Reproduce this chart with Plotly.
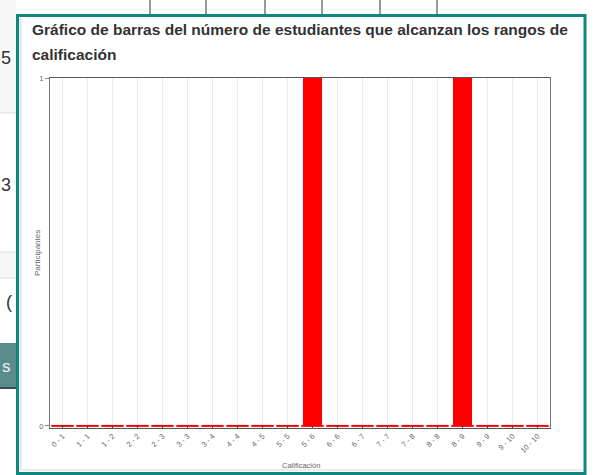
import plotly.graph_objects as go

categories = ["0 - 1", "1 - 1", "1 - 2", "2 - 2", "2 - 3", "3 - 3", "3 - 4", "4 - 4",
              "4 - 5", "5 - 5", "5 - 6", "6 - 6", "6 - 7", "7 - 7", "7 - 8", "8 - 8",
              "8 - 9", "9 - 9", "9 - 10", "10 - 10"]
participantes = [0, 0, 0, 0, 0, 0, 0, 0, 0, 0, 1, 0, 0, 0, 0, 0, 1, 0, 0, 0]
y_ticks = [0, 1]

title_line1 = "Gráfico de barras del número de estudiantes que alcanzan los rangos de"
title_line2 = "calificación"

W, H = 596, 475
L, R, T, B = 50, 46, 78, 47
PW, PH = W - L - R, H - T - B


def px(x):
    return (x - L) / PW


def py(y):
    return (H - B - y) / PH


fig = go.Figure()
fig.add_trace(go.Bar(x=categories, y=participantes, marker=dict(color="#ff0000", line=dict(width=0)),
                     hoverinfo="x+y"))
# Chart.js style minimal bar at the baseline
fig.add_trace(go.Scatter(x=categories, y=[0 for _ in participantes], mode="markers",
                         marker=dict(symbol="line-ew-open", size=16, color="#ff0000",
                                     line=dict(width=2, color="#ff0000")),
                         cliponaxis=False, hoverinfo="skip"))

shapes = []
annotations = []
# outside page background (left strip)
shapes.append(dict(type="rect", xref="paper", yref="paper", x0=px(0), x1=px(16), y0=py(0), y1=py(113),
                   fillcolor="#f7f7f7", line=dict(width=0), layer="below"))
shapes.append(dict(type="rect", xref="paper", yref="paper", x0=px(0), x1=px(16), y0=py(252), y1=py(278),
                   fillcolor="#f7f7f7", line=dict(width=0), layer="below"))
for yy in [113, 252, 278]:
    shapes.append(dict(type="line", xref="paper", yref="paper", x0=px(0), x1=px(16), y0=py(yy), y1=py(yy),
                       line=dict(color="#dddddd", width=1)))
# button fragment
shapes.append(dict(type="rect", xref="paper", yref="paper", x0=px(0), x1=px(17), y0=py(343), y1=py(389),
                   fillcolor="#5a8c8c", line=dict(width=0)))
shapes.append(dict(type="line", xref="paper", yref="paper", x0=px(0), x1=px(17), y0=py(388), y1=py(388),
                   line=dict(color="#2f4f4f", width=2)))
annotations.append(dict(text="s", xref="paper", yref="paper", x=px(6), y=py(366), xanchor="center",
                        yanchor="middle", showarrow=False,
                        font=dict(size=17, color="#e8f2f2", family="Liberation Sans")))
annotations.append(dict(text="5", xref="paper", yref="paper", x=px(13), y=py(58), xanchor="right",
                        yanchor="middle", showarrow=False,
                        font=dict(size=18, color="#333333", family="Liberation Sans")))
annotations.append(dict(text="3", xref="paper", yref="paper", x=px(13), y=py(185), xanchor="right",
                        yanchor="middle", showarrow=False,
                        font=dict(size=18, color="#333333", family="Liberation Sans")))
annotations.append(dict(text="(", xref="paper", yref="paper", x=px(14), y=py(302), xanchor="right",
                        yanchor="middle", showarrow=False,
                        font=dict(size=18, color="#333333", family="Liberation Sans")))
# top vertical lines
for xx in [150, 206, 265, 322, 380, 437]:
    shapes.append(dict(type="line", xref="paper", yref="paper", x0=px(xx), x1=px(xx), y0=py(0), y1=py(16),
                       line=dict(color="#333333", width=1)))
# inner subtle shadow
shapes.append(dict(type="line", xref="paper", yref="paper", x0=px(20.5), x1=px(20.5), y0=py(18), y1=py(471),
                   line=dict(color="#e4e4e4", width=2)))
shapes.append(dict(type="line", xref="paper", yref="paper", x0=px(20), x1=px(583), y0=py(470), y1=py(470),
                   line=dict(color="#ececec", width=2)))
# dialog teal border
shapes.append(dict(type="rect", xref="paper", yref="paper", x0=px(17.5), x1=px(585), y0=py(15.5), y1=py(473.5),
                   line=dict(color="#0f8680", width=3)))

annotations.append(dict(text=title_line1, xref="paper", yref="paper", x=px(30), y=py(30), xanchor="left",
                        yanchor="middle", showarrow=False,
                        font=dict(size=15.5, color="#333333", family="Liberation Sans", weight="bold")))
annotations.append(dict(text=title_line2, xref="paper", yref="paper", x=px(30), y=py(54), xanchor="left",
                        yanchor="middle", showarrow=False,
                        font=dict(size=15.5, color="#333333", family="Liberation Sans", weight="bold")))
annotations.append(dict(text="Participantes", xref="paper", yref="paper", x=px(37), y=py(253), textangle=-90,
                        xanchor="center", yanchor="middle", showarrow=False,
                        font=dict(size=8, color="#666666", family="Liberation Sans")))
annotations.append(dict(text="Calificación", xref="paper", yref="paper", x=px(301), y=py(465),
                        xanchor="center", yanchor="middle", showarrow=False,
                        font=dict(size=7.5, color="#666666", family="Liberation Sans")))

fig.update_layout(
    width=W, height=H,
    margin=dict(l=L, r=R, t=T, b=B),
    paper_bgcolor="#ffffff", plot_bgcolor="#ffffff",
    showlegend=False, bargap=0.24,
    font=dict(family="Liberation Sans", size=7, color="#666666"),
    shapes=shapes, annotations=annotations,
    xaxis=dict(type="category", range=[-0.5, len(categories) - 0.5], showgrid=True, gridcolor="#ebebeb",
               gridwidth=1, showline=True, linecolor="#555555", linewidth=1, mirror=True,
               ticks="inside", ticklen=3, tickcolor="#444444", tickangle=-45,
               tickfont=dict(size=7.5, color="#666666"), fixedrange=True),
    yaxis=dict(range=[-0.006, 1], tickvals=y_ticks, ticktext=[str(v) for v in y_ticks], showgrid=False,
               zeroline=False, showline=True, linecolor="#777777", linewidth=1, mirror=True,
               ticks="outside", ticklen=4, tickcolor="#888888",
               tickfont=dict(size=7.5, color="#666666"), fixedrange=True),
)

fig.write_html("out.html", config={"displayModeBar": False},
               post_script="document.body.style.margin='0';document.body.style.padding='0';")
